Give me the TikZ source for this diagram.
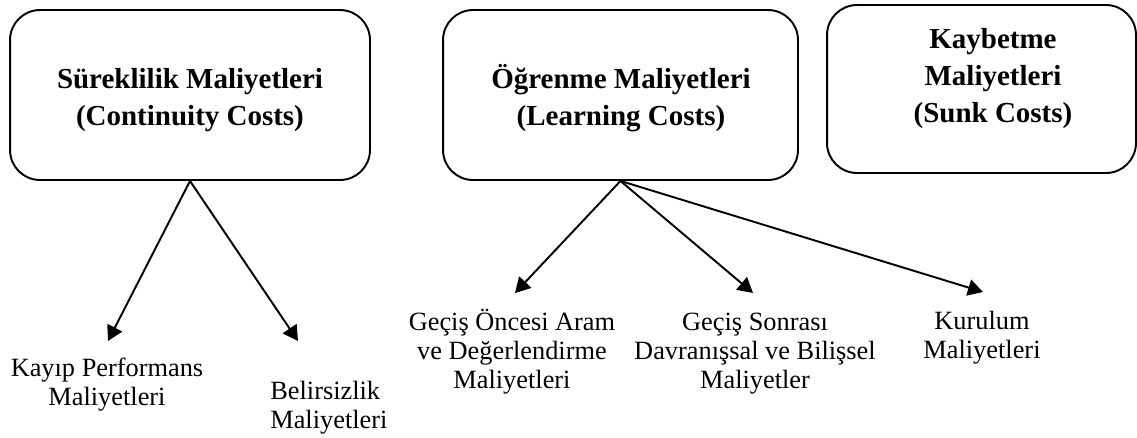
\documentclass[tikz,border=0pt]{standalone}
\usepackage{fontspec}
\setmainfont{Liberation Serif}
\usetikzlibrary{arrows.meta}

\begin{document}
\begin{tikzpicture}[x=0.02cm, y=-0.02cm,
    costbox/.style={draw, line width=1.1pt, rounded corners=0.6cm, inner sep=0pt},
    headtext/.style={align=center, inner sep=0pt, font=\fontsize{16.5}{20.8}\selectfont\bfseries},
    subtext/.style={align=center, inner sep=0pt, font=\fontsize{15}{16.5}\selectfont},
    costarrow/.style={line width=1.1pt, -{Triangle[length=0.3cm, width=0.33cm]}}]

    % Fix the page size
    \useasboundingbox (0,0) rectangle (1137,437);

    % Draw the three main boxes
    \node[costbox, minimum width=7.2cm, minimum height=3.4cm] (cont) at (190,95) {};
    \node[costbox, minimum width=7.1cm, minimum height=3.4cm] (learn) at (620.5,95) {};
    \node[costbox, minimum width=6.18cm, minimum height=3.36cm] (sunk) at (981.5,89) {};

    % Box titles (base = last line)
    \node[headtext, anchor=base] (conttitle) at (190,125) {Süreklilik Maliyetleri\\(Continuity Costs)};
    \node[headtext, anchor=base] (learntitle) at (621,125) {Öğrenme Maliyetleri\\(Learning Costs)};
    \node[headtext, anchor=base] (sunktitle) at (993,122) {Kaybetme\\Maliyetleri\\(Sunk Costs)};

    % Sub costs
    \node[subtext, anchor=base] (perf) at (107,405) {Kayıp Performans\\Maliyetleri};
    \node[subtext, align=left, anchor=base west] (uncert) at (270,428) {Belirsizlik\\Maliyetleri};
    \node[subtext, anchor=base] (search) at (512,388) {Geçiş Öncesi Aram\\ve Değerlendirme\\Maliyetleri};
    \node[subtext, anchor=base] (behav) at (755,388) {Geçiş Sonrası\\Davranışsal ve Bilişsel\\Maliyetler};
    \node[subtext, anchor=base] (setup) at (982,358) {Kurulum\\Maliyetleri};

    % Arrow ends
    \coordinate (perfend) at (108,341);
    \coordinate (uncertend) at (298,341);
    \coordinate (searchend) at (515,293);
    \coordinate (behavend) at (753,293);
    \coordinate (setupend) at (983,292);

    % Draw arrows
    \draw[costarrow] (cont.south) -- (perfend);
    \draw[costarrow] (cont.south) -- (uncertend);
    \draw[costarrow] (learn.south) -- (searchend);
    \draw[costarrow] (learn.south) -- (behavend);
    \draw[costarrow] (learn.south) -- (setupend);
\end{tikzpicture}
\end{document}
